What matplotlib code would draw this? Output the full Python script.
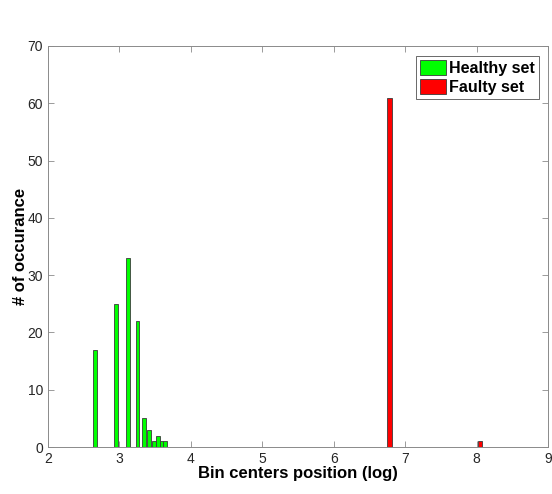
import matplotlib
matplotlib.use("Agg")
import matplotlib.pyplot as plt

# Histogram bin centers (log) and counts
healthy_centers = [2.66, 2.95, 3.12, 3.25, 3.34, 3.41, 3.48, 3.54, 3.59, 3.64]
healthy_counts = [17, 25, 33, 22, 5, 3, 1, 2, 1, 1]
faulty_centers = [6.78, 8.05]
faulty_counts = [61, 1]

plt.rcParams['font.family'] = ['Liberation Sans', 'DejaVu Sans']

fig = plt.figure(figsize=(5.52, 4.94), dpi=100)
ax = fig.add_axes([0.087, 0.095, 0.906, 0.812])

ax.bar(healthy_centers, healthy_counts, width=0.05, color='#00ff00',
       edgecolor='#3a3a3a', linewidth=0.6, label='Healthy set')
ax.bar(faulty_centers, faulty_counts, width=0.06, color='#ff0000',
       edgecolor='#3a3a3a', linewidth=0.6, label='Faulty set')

ax.set_xlim(2, 9)
ax.set_ylim(0, 70)
ax.set_xticks(range(2, 10))
ax.set_yticks(range(0, 80, 10))
ax.tick_params(direction='in', top=True, right=True, labelsize=10,
               colors='#262626', length=4, width=0.6)
ax.tick_params(axis='both', color='#8a8a8a')
for s in ax.spines.values():
    s.set_color('#8a8a8a')
    s.set_linewidth(0.7)

ax.set_xlabel('Bin centers position (log)', fontsize=12, fontweight='bold', labelpad=0)
ax.set_ylabel('# of occurance', fontsize=12, fontweight='bold', labelpad=0)

leg = ax.legend(loc='upper right', prop={'weight': 'bold', 'size': 11.5},
                fancybox=False, handlelength=1.6, handleheight=1.1,
                handletextpad=0.2, borderpad=0.25, labelspacing=0.2,
                borderaxespad=0.6)
leg.get_frame().set_edgecolor('#262626')
leg.get_frame().set_linewidth(0.6)

fig.savefig('out.png', dpi=100)
